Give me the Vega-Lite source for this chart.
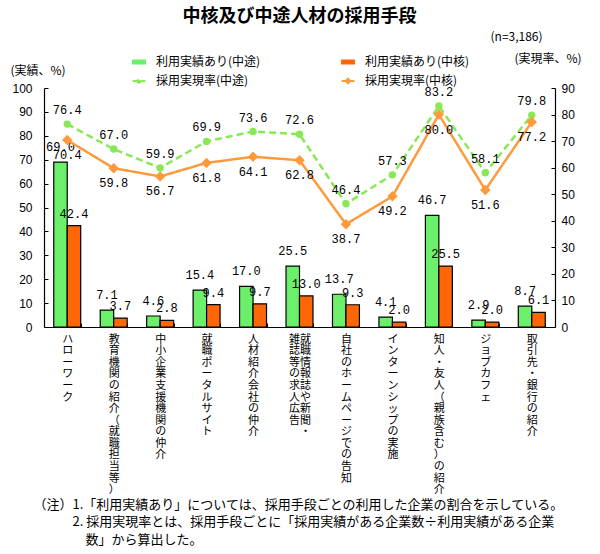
{
  "$schema": "https://vega.github.io/schema/vega-lite/v6.json",
  "width": 511,
  "height": 239,
  "autosize": {"type": "none"},
  "padding": {"left": 44, "top": 88, "right": 45, "bottom": 227},
  "background": "white",
  "title": {"text": "中核及び中途人材の採用手段", "font": "Noto Sans CJK JP", "fontSize": 18, "fontWeight": "bold", "anchor": "middle", "frame": "group", "color": "black", "offset": 4},
  "config": {"view": {"stroke": null}, "font": "Noto Sans CJK JP"},
  "data": {"values": [
    {"cat": "ハローワーク", "kind": "bar", "series": "利用実績あり(中途)", "value": 69.0},
    {"cat": "ハローワーク", "kind": "bar", "series": "利用実績あり(中核)", "value": 42.4},
    {"cat": "ハローワーク", "kind": "rate", "series": "採用実現率(中途)", "value": 76.4},
    {"cat": "ハローワーク", "kind": "rate", "series": "採用実現率(中核)", "value": 70.4},
    {"cat": "教育機関の紹介（就職担当等）", "kind": "bar", "series": "利用実績あり(中途)", "value": 7.1},
    {"cat": "教育機関の紹介（就職担当等）", "kind": "bar", "series": "利用実績あり(中核)", "value": 3.7},
    {"cat": "教育機関の紹介（就職担当等）", "kind": "rate", "series": "採用実現率(中途)", "value": 67.0},
    {"cat": "教育機関の紹介（就職担当等）", "kind": "rate", "series": "採用実現率(中核)", "value": 59.8},
    {"cat": "中小企業支援機関の仲介", "kind": "bar", "series": "利用実績あり(中途)", "value": 4.6},
    {"cat": "中小企業支援機関の仲介", "kind": "bar", "series": "利用実績あり(中核)", "value": 2.8},
    {"cat": "中小企業支援機関の仲介", "kind": "rate", "series": "採用実現率(中途)", "value": 59.9},
    {"cat": "中小企業支援機関の仲介", "kind": "rate", "series": "採用実現率(中核)", "value": 56.7},
    {"cat": "就職ポータルサイト", "kind": "bar", "series": "利用実績あり(中途)", "value": 15.4},
    {"cat": "就職ポータルサイト", "kind": "bar", "series": "利用実績あり(中核)", "value": 9.4},
    {"cat": "就職ポータルサイト", "kind": "rate", "series": "採用実現率(中途)", "value": 69.9},
    {"cat": "就職ポータルサイト", "kind": "rate", "series": "採用実現率(中核)", "value": 61.8},
    {"cat": "人材紹介会社の仲介", "kind": "bar", "series": "利用実績あり(中途)", "value": 17.0},
    {"cat": "人材紹介会社の仲介", "kind": "bar", "series": "利用実績あり(中核)", "value": 9.7},
    {"cat": "人材紹介会社の仲介", "kind": "rate", "series": "採用実現率(中途)", "value": 73.6},
    {"cat": "人材紹介会社の仲介", "kind": "rate", "series": "採用実現率(中核)", "value": 64.1},
    {"cat": "就職情報誌や新聞・雑誌等の求人広告", "kind": "bar", "series": "利用実績あり(中途)", "value": 25.5},
    {"cat": "就職情報誌や新聞・雑誌等の求人広告", "kind": "bar", "series": "利用実績あり(中核)", "value": 13.0},
    {"cat": "就職情報誌や新聞・雑誌等の求人広告", "kind": "rate", "series": "採用実現率(中途)", "value": 72.6},
    {"cat": "就職情報誌や新聞・雑誌等の求人広告", "kind": "rate", "series": "採用実現率(中核)", "value": 62.8},
    {"cat": "自社のホームページでの告知", "kind": "bar", "series": "利用実績あり(中途)", "value": 13.7},
    {"cat": "自社のホームページでの告知", "kind": "bar", "series": "利用実績あり(中核)", "value": 9.3},
    {"cat": "自社のホームページでの告知", "kind": "rate", "series": "採用実現率(中途)", "value": 46.4},
    {"cat": "自社のホームページでの告知", "kind": "rate", "series": "採用実現率(中核)", "value": 38.7},
    {"cat": "インターンシップの実施", "kind": "bar", "series": "利用実績あり(中途)", "value": 4.1},
    {"cat": "インターンシップの実施", "kind": "bar", "series": "利用実績あり(中核)", "value": 2.0},
    {"cat": "インターンシップの実施", "kind": "rate", "series": "採用実現率(中途)", "value": 57.3},
    {"cat": "インターンシップの実施", "kind": "rate", "series": "採用実現率(中核)", "value": 49.2},
    {"cat": "知人・友人（親族含む）の紹介", "kind": "bar", "series": "利用実績あり(中途)", "value": 46.7},
    {"cat": "知人・友人（親族含む）の紹介", "kind": "bar", "series": "利用実績あり(中核)", "value": 25.5},
    {"cat": "知人・友人（親族含む）の紹介", "kind": "rate", "series": "採用実現率(中途)", "value": 83.2},
    {"cat": "知人・友人（親族含む）の紹介", "kind": "rate", "series": "採用実現率(中核)", "value": 80.0},
    {"cat": "ジョブカフェ", "kind": "bar", "series": "利用実績あり(中途)", "value": 2.9},
    {"cat": "ジョブカフェ", "kind": "bar", "series": "利用実績あり(中核)", "value": 2.0},
    {"cat": "ジョブカフェ", "kind": "rate", "series": "採用実現率(中途)", "value": 58.1},
    {"cat": "ジョブカフェ", "kind": "rate", "series": "採用実現率(中核)", "value": 51.6},
    {"cat": "取引先・銀行の紹介", "kind": "bar", "series": "利用実績あり(中途)", "value": 8.7},
    {"cat": "取引先・銀行の紹介", "kind": "bar", "series": "利用実績あり(中核)", "value": 6.1},
    {"cat": "取引先・銀行の紹介", "kind": "rate", "series": "採用実現率(中途)", "value": 79.8},
    {"cat": "取引先・銀行の紹介", "kind": "rate", "series": "採用実現率(中核)", "value": 77.2}
  ]},
  "encoding": {
    "x": {"field": "cat", "type": "nominal", "sort": null,
      "scale": {"paddingInner": 0.42, "paddingOuter": 0.21},
      "axis": {
        "title": ["（注）1.「利用実績あり」については、採用手段ごとの利用した企業の割合を示している。", "\u200b\u3000\u3000\u30002. 採用実現率とは、採用手段ごとに「採用実績がある企業数÷利用実績がある企業", "\u200b\u3000\u3000\u3000\u3000数」から算出した。"],
        "titleX": -11, "titleY": 171, "titleAlign": "left", "titleAnchor": "start", "titleBaseline": "top", "titleAngle": 0,
        "titleFont": "Noto Sans CJK JP", "titleFontSize": 13, "titleFontWeight": "normal", "titleColor": "black", "titleLineHeight": 17.5,
        "labelExpr": "datum.value == null ? '' : (datum.value == '就職情報誌や新聞・雑誌等の求人広告' ? ['雑就','誌職','等情','の報','求誌','人や','広新','告聞','\u200b\u3000・'] : split(datum.value, ''))",
        "labelAngle": 0, "labelAlign": "center", "labelBaseline": "top", "labelFont": "Noto Sans CJK JP", "labelFontSize": 11, "labelLineHeight": 11.6,
        "labelColor": "black", "labelPadding": 10, "labelLimit": 0, "labelOverlap": false,
        "tickBand": "extent", "tickSize": -4, "tickColor": "black", "domainColor": "black", "domainWidth": 1.2
      }}
  },
  "layer": [
    {
      "transform": [{"filter": {"field": "kind", "equal": "bar"}}],
      "encoding": {
        "xOffset": {"field": "series", "type": "nominal", "sort": null, "scale": {"domain": ["利用実績あり(中途)", "利用実績あり(中核)"], "paddingInner": 0, "paddingOuter": 0}},
        "y": {"field": "value", "type": "quantitative", "scale": {"domain": [0, 100], "nice": false},
          "axis": {"title": "(実績、%)", "titleAngle": 0, "titleAlign": "left", "titleBaseline": "middle", "titleX": -34, "titleY": -18,
            "titleFont": "Noto Sans CJK JP", "titleFontSize": 12, "titleFontWeight": "normal", "titleColor": "black",
            "values": [0, 10, 20, 30, 40, 50, 60, 70, 80, 90, 100], "grid": false, "tickSize": -4, "tickColor": "black",
            "domainColor": "black", "domainWidth": 1.2, "labelFont": "Liberation Sans", "labelFontSize": 12, "labelColor": "black", "labelPadding": 16}}
      },
      "layer": [
        {
          "mark": {"type": "bar", "stroke": "black", "strokeWidth": 1.2},
          "encoding": {
            "color": {"field": "series", "type": "nominal",
              "scale": {"domain": ["利用実績あり(中途)", "利用実績あり(中核)", "採用実現率(中途)", "採用実現率(中核)"], "range": ["#6CF06C", "#FF6608", "#88E855", "#FF9A3C"]},
              "legend": {"orient": "none", "legendX": 89, "legendY": -32, "direction": "horizontal", "columns": 2, "title": null,
                "symbolSize": 256, "labelOffset": 11, "columnPadding": 76, "rowPadding": 6, "padding": 0,
                "labelFont": "Noto Sans CJK JP", "labelFontSize": 12, "labelColor": "black", "labelLimit": 0,
                "symbolOpacity": 1,
                "symbolType": {"expr": "test(/利用/, datum.value) ? 'M-0.8,-0.25H0.8V0.25H-0.8Z' : (test(/中途/, datum.value) ? 'M-0.8,0H0.8M-0.2,0A0.2,0.2 0 1,0 0.2,0A0.2,0.2 0 1,0 -0.2,0Z' : 'M-0.8,0H0.8M0,-0.28L0.28,0L0,0.28L-0.28,0Z')"},
                "symbolStrokeColor": {"expr": "test(/利用/, datum.value) ? 'black' : scale('color', datum.value)"},
                "symbolStrokeWidth": {"expr": "test(/利用/, datum.value) ? 1.2 : 2"},
                "symbolDash": {"expr": "test(/採用/, datum.value) && test(/中途/, datum.value) ? [5, 3] : [1, 0]"}
              }
            }
          }
        },
        {
          "transform": [{"filter": {"field": "series", "equal": "利用実績あり(中途)"}}],
          "mark": {"type": "text", "dy": -15, "baseline": "middle", "font": "Liberation Mono", "fontSize": 12, "color": "black"},
          "encoding": {"text": {"field": "value", "type": "quantitative", "format": ".1f"}}
        },
        {
          "transform": [{"filter": {"field": "series", "equal": "利用実績あり(中核)"}}],
          "mark": {"type": "text", "dy": -12, "baseline": "middle", "font": "Liberation Mono", "fontSize": 12, "color": "black"},
          "encoding": {"text": {"field": "value", "type": "quantitative", "format": ".1f"}}
        }
      ]
    },
    {
      "transform": [{"filter": {"field": "kind", "equal": "rate"}}],
      "encoding": {
        "y": {"field": "value", "type": "quantitative", "scale": {"domain": [0, 90], "nice": false},
          "axis": {"orient": "right", "title": ["(n=3,186)", "\u200b\u3000\u3000(実現率、%)"], "titleAngle": 0, "titleAlign": "left", "titleBaseline": "top",
            "titleX": -65, "titleY": -57, "titleLineHeight": 22,
            "titleFont": "Noto Sans CJK JP", "titleFontSize": 12, "titleFontWeight": "normal", "titleColor": "black",
            "values": [0, 10, 20, 30, 40, 50, 60, 70, 80, 90], "grid": false, "tickSize": -4, "tickColor": "black",
            "domainColor": "black", "domainWidth": 1.2, "labelFont": "Liberation Sans", "labelFontSize": 12, "labelColor": "black", "labelPadding": 10}}
      },
      "layer": [
        {
          "mark": {"type": "line", "strokeWidth": 2.5},
          "encoding": {
            "color": {"field": "series", "type": "nominal", "legend": null},
            "strokeDash": {"field": "series", "type": "nominal", "scale": {"domain": ["採用実現率(中途)", "採用実現率(中核)"], "range": [[7, 4], [1, 0]]}, "legend": null}
          }
        },
        {
          "mark": {"type": "point", "filled": true, "opacity": 1},
          "encoding": {
            "color": {"field": "series", "type": "nominal", "legend": null},
            "shape": {"field": "series", "type": "nominal", "scale": {"domain": ["採用実現率(中途)", "採用実現率(中核)"], "range": ["circle", "diamond"]}, "legend": null},
            "size": {"field": "series", "type": "nominal", "scale": {"domain": ["採用実現率(中途)", "採用実現率(中核)"], "range": [55, 110]}, "legend": null}
          }
        },
        {
          "transform": [{"filter": {"field": "series", "equal": "採用実現率(中途)"}}],
          "mark": {"type": "text", "dy": -14, "baseline": "middle", "font": "Liberation Mono", "fontSize": 12, "color": "black"},
          "encoding": {"text": {"field": "value", "type": "quantitative", "format": ".1f"}}
        },
        {
          "transform": [{"filter": {"field": "series", "equal": "採用実現率(中核)"}}],
          "mark": {"type": "text", "dy": 15, "baseline": "middle", "font": "Liberation Mono", "fontSize": 12, "color": "black"},
          "encoding": {"text": {"field": "value", "type": "quantitative", "format": ".1f"}}
        }
      ]
    }
  ],
  "resolve": {"scale": {"y": "independent"}}
}
